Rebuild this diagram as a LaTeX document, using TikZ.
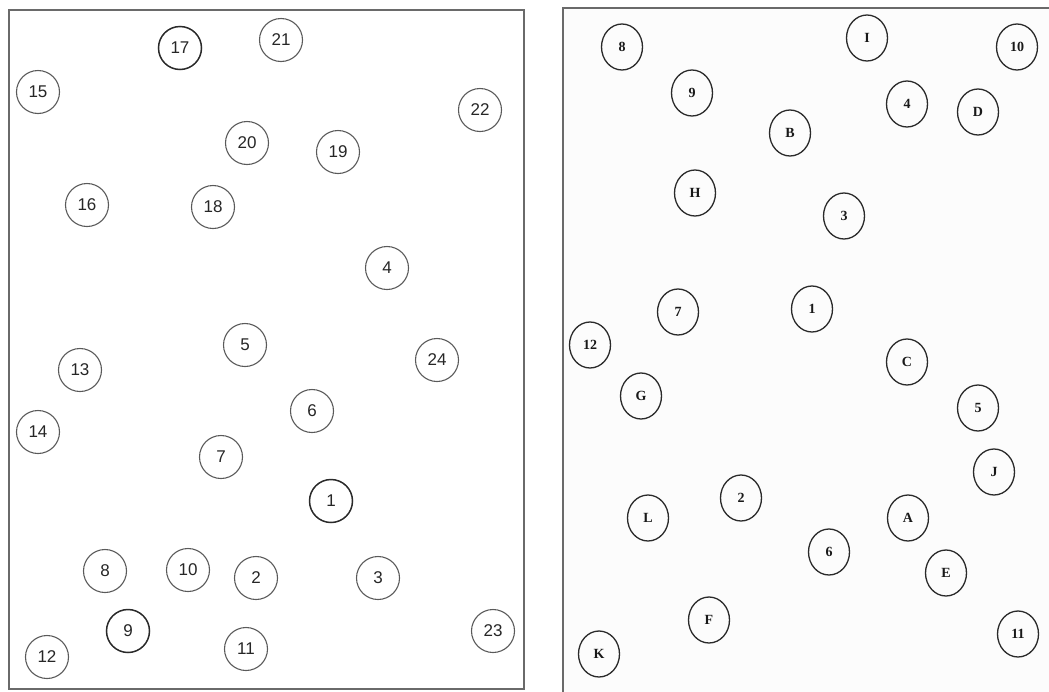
\documentclass[tikz,border=0pt]{standalone}
\usepackage{fontspec}
\setmainfont{Liberation Serif}
\newfontfamily\leftfont{Liberation Sans}
\usetikzlibrary{shapes.geometric}
\definecolor{frame}{HTML}{6A6A6A}
\definecolor{ringgray}{HTML}{5A5A5A}
\definecolor{ringdark}{HTML}{2A2A2A}
\tikzset{
  panel/.style={draw=frame, line width=1.8pt},
  lnode/.style={circle, draw=ringgray, line width=1.1pt, minimum size=43pt, inner sep=0pt, font=\leftfont\fontsize{17}{17}\selectfont, text=black!85},
  lnodedark/.style={lnode, draw=ringdark, line width=1.5pt},
  rnode/.style={ellipse, draw=ringdark, line width=1.3pt, minimum width=41pt, minimum height=46pt, inner sep=0pt, font=\bfseries\fontsize{14}{14}\selectfont, text=black!90}
}
\begin{document}
\begin{tikzpicture}[x=1pt,y=-1pt]
\useasboundingbox (0,0) rectangle (1049,691);
\fill[white] (0,0) rectangle (1049,691);
% panels
\draw[panel] (9,10) rectangle (524,689);
\begin{scope}
\clip (0,0) rectangle (1049,691);
\fill[black!1] (563,8) rectangle (1060,700);
\draw[panel] (1060,8) -- (563,8) -- (563,700);
\end{scope}
% left panel
\node[lnodedark] (l17) at (180,48) {17};
\node[lnode] (l21) at (281,40) {21};
\node[lnode] (l15) at (38,92) {15};
\node[lnode] (l22) at (480,110) {22};
\node[lnode] (l20) at (247,143) {20};
\node[lnode] (l19) at (338,152) {19};
\node[lnode] (l16) at (87,205) {16};
\node[lnode] (l18) at (213,207) {18};
\node[lnode] (l4) at (387,268) {4};
\node[lnode] (l5) at (245,345) {5};
\node[lnode] (l24) at (437,360) {24};
\node[lnode] (l13) at (80,370) {13};
\node[lnode] (l6) at (312,411) {6};
\node[lnode] (l14) at (38,432) {14};
\node[lnode] (l7) at (221,457) {7};
\node[lnodedark] (l1) at (331,501) {1};
\node[lnode] (l8) at (105,571) {8};
\node[lnode] (l10) at (188,570) {10};
\node[lnode] (l2) at (256,578) {2};
\node[lnode] (l3) at (378,578) {3};
\node[lnodedark] (l9) at (128,631) {9};
\node[lnode] (l23) at (493,631) {23};
\node[lnode] (l12) at (47,657) {12};
\node[lnode] (l11) at (246,649) {11};
% right panel
\node[rnode] (r8) at (622,47) {8};
\node[rnode] (rI) at (867,38) {I};
\node[rnode] (r10) at (1017,47) {10};
\node[rnode] (r9) at (692,93) {9};
\node[rnode] (r4) at (907,104) {4};
\node[rnode] (rD) at (978,112) {D};
\node[rnode] (rB) at (790,133) {B};
\node[rnode] (rH) at (695,193) {H};
\node[rnode] (r3) at (844,216) {3};
\node[rnode] (r1) at (812,309) {1};
\node[rnode] (r7) at (678,312) {7};
\node[rnode] (r12) at (590,345) {12};
\node[rnode] (rC) at (907,362) {C};
\node[rnode] (rG) at (641,396) {G};
\node[rnode] (r5) at (978,408) {5};
\node[rnode] (rJ) at (994,472) {J};
\node[rnode] (r2) at (741,498) {2};
\node[rnode] (rL) at (648,518) {L};
\node[rnode] (rA) at (908,518) {A};
\node[rnode] (r6) at (829,552) {6};
\node[rnode] (rE) at (946,573) {E};
\node[rnode] (rF) at (709,620) {F};
\node[rnode] (r11) at (1018,634) {11};
\node[rnode] (rK) at (599,654) {K};
\end{tikzpicture}
\end{document}
